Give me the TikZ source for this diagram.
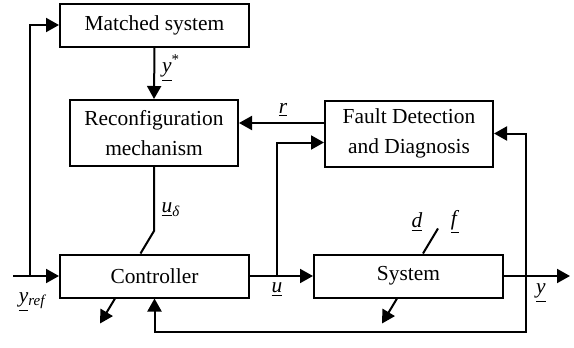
\documentclass[tikz,border=0pt]{standalone}
\usepackage{fontspec}
\setmainfont{Liberation Serif}
\usepackage{tikz}
\usetikzlibrary{arrows.meta}
\usetikzlibrary{calc}
\usetikzlibrary{positioning}
\tikzset{
    block/.style={
        draw,
        line width=1pt,
        align=center,
        inner sep=0pt,
        font=\fontsize{10.7}{15}\selectfont
    },
    wide block/.style={
        block,
        minimum width=94.5pt,
        minimum height=21.5pt
    },
    tall block/.style={
        block,
        minimum width=84pt,
        minimum height=33pt
    },
    wire/.style={line width=1pt},
    sig/.style={wire, -{Triangle[length=6.5pt,width=7pt]}},
    lbl/.style={inner sep=0pt, font=\fontsize{10.7}{13}\selectfont}
}

\begin{document}
\begin{tikzpicture}[x=0.5pt,y=-0.5pt]
          \useasboundingbox (0,0) rectangle (574,348);
          % blocks
          \node[wide block] (match) at (154.5,25) {Matched system};
          \node[tall block] (recon) at (154,133) {Reconfiguration\\mechanism};
          \node[tall block] (fdd) at (409,133.5) {Fault Detection\\and Diagnosis};
          \node[wide block] (ctrl) at (154.5,276) {Controller};
          \node[wide block] (sys) at (408.5,276) {System};

          \coordinate (yin) at (13,276);
          \coordinate (lb) at (30,276);
          \coordinate (ub) at (277,276);
          \coordinate (yb) at (526,276);
          \coordinate (yout) at (570,276);
          \coordinate (sw) at (154,231);
          \coordinate (fb) at (526,332);
          \coordinate (rout) at ([yshift=5.25pt]fdd.west);
          \coordinate (uin) at ([yshift=-4.5pt]fdd.west);

          % signals
          \draw[sig] (yin) -- (ctrl.west);
          \draw[sig] (lb) |- (match.west);
          \draw[sig] (match.south) -- (recon.north);
          \draw[sig] (rout) -- (recon.east |- rout);
          \draw[sig] (ctrl.east) -- (sys.west);
          \draw[sig] (ub) |- (uin);
          \draw[sig] (sys.east) -- (yout);
          \draw[sig] (yb) |- (fdd.east);
          \draw[sig] (yb) -- (fb) -| (ctrl.south);
          \draw[wire] (recon.south) -- (sw) -- ([xshift=-7pt]ctrl.north);
          \draw[wire] ([xshift=7.25pt]sys.north) -- ++(7.5pt,12.5pt);
          \foreach \b/\s in {ctrl/-19.75pt,sys/-5.75pt}
            \draw[sig] ([xshift=\s]\b.south) -- ++(-7.5pt,-12.5pt);

          % labels
          \node[lbl] (ystar) at (171,68) {\underline{\textit{y}}\textsuperscript{*}};
          \node[lbl] (r) at (283,110) {\underline{\textit{r}}};
          \node[lbl] (udelta) at (171,210) {\underline{\textit{u}}\textsubscript{\textit{δ}}};
          \node[lbl] (ulbl) at (277,290) {\underline{\textit{u}}};
          \node[lbl] (yref) at (33,302) {\underline{\textit{y}}\textsubscript{\textit{ref}}};
          \node[lbl] (ylbl) at (541,293) {\underline{\textit{y}}};
          \node[lbl] (dlbl) at (417,222) {\underline{\textit{d}}};
          \node[lbl] (flbl) at (455,222) {\underline{\textit{f}}};
\end{tikzpicture}
\end{document}
